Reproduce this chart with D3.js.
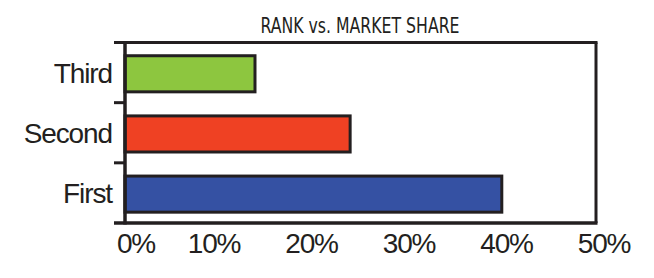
<!DOCTYPE html>
<html>
<head>
<meta charset="utf-8">
<script src="https://cdn.jsdelivr.net/npm/d3@7"></script>
<style>
  html, body { margin: 0; padding: 0; background: #fff; }
  svg { display: block; }
</style>
</head>
<body>
<svg id="chart" width="654" height="278"></svg>
<script>
const title = "RANK vs. MARKET SHARE";
const categories = ["Third", "Second", "First"];
const shares = [13.8, 23.9, 40];
const barColors = ["#8dc63f", "#ef4123", "#3551a3"];
const xTicks = [0, 10, 20, 30, 40, 50];
const xTickLabels = ["0%", "10%", "20%", "30%", "40%", "50%"];

const svg = d3.select("#chart");
const ink = "#231f20";
const pLeft = 125, pRight = 596, pTop = 42.5, pBottom = 223;

const x = d3.scaleLinear().domain([0, 50]).range([pLeft, pRight]);
// tick labels in the original are spread slightly wider than the plot
const xLabel = d3.scaleLinear().domain([10, 50]).range([214, 604]);
const y = d3.scaleBand().domain(categories).range([pTop, pBottom])
  .paddingInner(0.4).paddingOuter(0.2).align(0.55);
const yEdge = d3.scaleLinear().domain([0, categories.length]).range([pTop, pBottom]);

// title
svg.append("text")
  .attr("x", 360).attr("y", 33)
  .attr("text-anchor", "middle")
  .attr("font-family", "'Liberation Sans Narrow', 'Arial Narrow', 'DejaVu Sans Condensed', sans-serif")
  .attr("font-size", 21)
  .attr("textLength", 199)
  .attr("lengthAdjust", "spacingAndGlyphs")
  .attr("fill", ink)
  .text(title);

// bars
svg.append("g").selectAll("rect")
  .data(categories)
  .join("rect")
  .attr("x", x(0))
  .attr("y", d => y(d))
  .attr("width", (d, i) => x(shares[i]) - x(0))
  .attr("height", y.bandwidth())
  .attr("fill", (d, i) => barColors[i])
  .attr("stroke", ink)
  .attr("stroke-width", 3);

// frame: top, right, bottom
const frame = svg.append("g").attr("stroke", ink).attr("fill", "none");
frame.append("line").attr("x1", pLeft - 11).attr("x2", pRight + 1.5)
  .attr("y1", pTop).attr("y2", pTop).attr("stroke-width", 3);
frame.append("line").attr("x1", pRight).attr("x2", pRight)
  .attr("y1", pTop).attr("y2", pBottom).attr("stroke-width", 3);
frame.append("line").attr("x1", pLeft - 11).attr("x2", pRight + 1.5)
  .attr("y1", pBottom).attr("y2", pBottom).attr("stroke-width", 3.5);
// left axis line
frame.append("line").attr("x1", pLeft).attr("x2", pLeft)
  .attr("y1", pTop - 1.5).attr("y2", pBottom + 1.5).attr("stroke-width", 3.5);
// left ticks at band boundaries
frame.selectAll("line.tick")
  .data(d3.range(1, categories.length))
  .join("line")
  .attr("class", "tick")
  .attr("x1", pLeft - 11).attr("x2", pLeft)
  .attr("y1", d => yEdge(d)).attr("y2", d => yEdge(d))
  .attr("stroke-width", 3);

// category labels
svg.append("g").selectAll("text")
  .data(categories)
  .join("text")
  .attr("x", 112)
  .attr("y", d => yEdge(categories.indexOf(d) + 0.5))
  .attr("dy", "0.36em")
  .attr("text-anchor", "end")
  .attr("font-family", "'Liberation Sans', Arial, sans-serif")
  .attr("font-size", 28)
  .attr("letter-spacing", "-1.1px")
  .attr("fill", ink)
  .text(d => d);

// x tick labels
svg.append("g").selectAll("text")
  .data(xTicks)
  .join("text")
  .attr("x", (d, i) => i === 0 ? x(d) - 8 : xLabel(d))
  .attr("y", 253)
  .attr("text-anchor", (d, i) => i === 0 ? "start" : "middle")
  .attr("font-family", "'Liberation Sans', Arial, sans-serif")
  .attr("font-size", 28)
  .attr("letter-spacing", "-1.2px")
  .attr("fill", ink)
  .text((d, i) => xTickLabels[i]);
</script>
</body>
</html>
